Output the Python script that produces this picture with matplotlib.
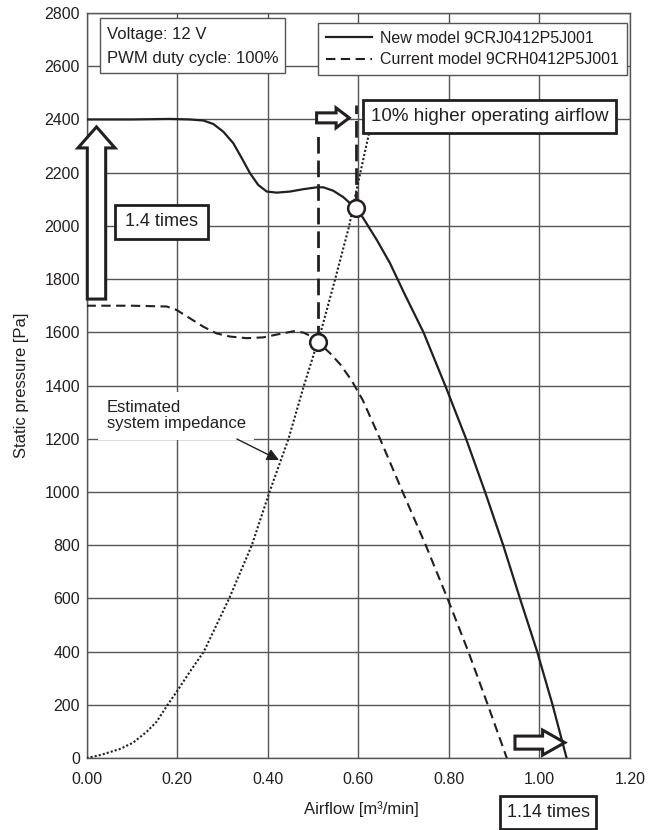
import matplotlib
matplotlib.use('Agg')
import matplotlib.pyplot as plt
from matplotlib.patches import FancyArrow, Rectangle

# fan P-Q curves
new_x = [0.000, 0.100, 0.184, 0.228, 0.258, 0.280, 0.302, 0.324, 0.343, 0.361, 0.379, 0.398,
         0.420, 0.449, 0.479, 0.508, 0.523, 0.545, 0.567, 0.582, 0.596, 0.611, 0.641, 0.670,
         0.702, 0.744, 0.792, 0.838, 0.880, 0.920, 0.957, 0.995, 1.029, 1.060]
new_y = [2400, 2400, 2402, 2400, 2396, 2383, 2354, 2311, 2254, 2198, 2154, 2129,
         2125, 2129, 2138, 2145, 2145, 2132, 2108, 2085, 2066, 2029, 1947, 1860,
         1745, 1600, 1400, 1200, 1000, 800, 600, 400, 200, 0]

cur_x = [0.000, 0.100, 0.177, 0.199, 0.228, 0.258, 0.287, 0.317, 0.354, 0.390, 0.427, 0.457,
         0.479, 0.501, 0.512, 0.538, 0.560, 0.585, 0.610, 0.648, 0.698, 0.749, 0.797, 0.843,
         0.886, 0.928]
cur_y = [1700, 1700, 1697, 1684, 1653, 1621, 1596, 1584, 1578, 1581, 1594, 1604,
         1599, 1581, 1562, 1521, 1480, 1420, 1345, 1200, 1000, 800, 600, 400,
         200, 0]

imp_x = [0.000, 0.030, 0.074, 0.103, 0.133, 0.155, 0.179, 0.199, 0.228, 0.259, 0.315, 0.365,
         0.404, 0.446, 0.480, 0.517, 0.549, 0.580, 0.593, 0.624]
imp_y = [0, 11, 34, 58, 99, 137, 200, 249, 324, 400, 600, 800,
         1000, 1200, 1400, 1600, 1800, 2000, 2110, 2350]

# operating points (current, new)
op_x = [0.512, 0.596]
op_y = [1562, 2066]

x_ticks = [0.0, 0.2, 0.4, 0.6, 0.8, 1.0, 1.2]
y_ticks = [0, 200, 400, 600, 800, 1000, 1200, 1400, 1600, 1800, 2000, 2200, 2400, 2600, 2800]

INK = '#231f20'
GRID = '#555555'
plt.rcParams['font.family'] = ['Liberation Sans', 'DejaVu Sans']

fig = plt.figure(figsize=(6.61, 8.30), dpi=100, facecolor='white')
ax = fig.add_axes([0.1309, 0.0867, 0.8222, 0.8976])

ax.set_xlim(0, 1.2)
ax.set_ylim(0, 2800)
ax.set_xticks(x_ticks)
ax.set_xticklabels(['%.2f' % v for v in x_ticks], fontsize=11.5, color=INK)
ax.set_yticks(y_ticks)
ax.set_yticklabels([str(v) for v in y_ticks], fontsize=11.5, color=INK)
ax.tick_params(axis='both', length=0)
ax.tick_params(axis='x', pad=10)
ax.tick_params(axis='y', pad=4.7)
ax.grid(True, color=GRID, lw=1.0)
ax.set_axisbelow(True)
for sp in ax.spines.values():
    sp.set_color(GRID)
    sp.set_linewidth(1.0)

ax.set_xlabel('Airflow [m³/min]', fontsize=12, color=INK)
ax.xaxis.set_label_coords(0.505, -0.058)
ax.set_ylabel('Static pressure [Pa]', fontsize=12, color=INK)
ax.yaxis.set_label_coords(-0.106, 0.5)

# curves
ax.plot(new_x, new_y, color=INK, lw=1.6, zorder=3, label='New model 9CRJ0412P5J001')
ax.plot(cur_x, cur_y, color=INK, lw=1.5, ls=(0, (4.5, 2.6)), zorder=3,
        label='Current model 9CRH0412P5J001')
ax.plot(imp_x, imp_y, color=INK, lw=1.5, ls=(0, (1, 1)), zorder=3)

# vertical guides from the operating points
ax.plot([op_x[0], op_x[0]], [op_y[0], 2348], color=INK, lw=2.0, ls=(0, (6, 2.5)), zorder=3)
ax.plot([op_x[1], op_x[1]], [op_y[1], 2455], color=INK, lw=2.0, ls=(0, (6, 2.5)), zorder=3)
ax.plot(op_x, op_y, ls='none', marker='o', ms=12, mfc='white', mec=INK, mew=1.8, zorder=6)

# hollow arrows
arrow_kw = dict(length_includes_head=True, fc='white', ec=INK, lw=2.2, zorder=6, clip_on=False)
ax.add_patch(FancyArrow(0.022, 1725, 0, 647, width=0.0406, head_width=0.0817,
                        head_length=79, **arrow_kw))
ax.add_patch(FancyArrow(0.508, 2406, 0.072, 0, width=37.6, head_width=75,
                        head_length=0.029, **arrow_kw))
ax.add_patch(FancyArrow(0.946, 58, 0.110, 0, width=49, head_width=94,
                        head_length=0.049, **arrow_kw))


def box(x0, x1, y0, y1, label, size, lw=2.0, ec=INK):
    ax.add_patch(Rectangle((x0, y0), x1 - x0, y1 - y0, fc='white', ec=ec, lw=lw,
                           zorder=7, clip_on=False))
    ax.text((x0 + x1) / 2, (y0 + y1) / 2, label, ha='center', va='center',
            fontsize=size, color=INK, zorder=8, clip_on=False)


box(0.063, 0.268, 1951, 2079, '1.4 times', 13)
box(0.610, 1.169, 2349, 2473, '10% higher operating airflow', 13.5)
box(0.913, 1.125, -267, -143, '1.14 times', 13)

# conditions box
ax.add_patch(Rectangle((0.030, 2575), 0.408, 207, fc='white', ec=GRID, lw=1.0, zorder=7))
ax.text(0.045, 2718, 'Voltage: 12 V', ha='left', va='center', fontsize=12, color=INK, zorder=8)
ax.text(0.045, 2628, 'PWM duty cycle: 100%', ha='left', va='center', fontsize=12, color=INK,
        zorder=8)

# impedance label
ax.text(0.0446, 1286, 'Estimated\nsystem impedance', ha='left', va='center', fontsize=12,
        color=INK, linespacing=1.1, zorder=4,
        bbox=dict(boxstyle='square,pad=0.5', fc='white', ec='none'))
ax.annotate('', xy=(0.425, 1120), xytext=(0.332, 1199),
            arrowprops=dict(arrowstyle='-|>', color=INK, lw=1.0, mutation_scale=18,
                            shrinkA=0, shrinkB=0), zorder=5)

leg = ax.legend(loc='upper right', bbox_to_anchor=(0.9945, 0.9866), fontsize=11.5,
                frameon=True, fancybox=False, framealpha=1, edgecolor=GRID,
                borderaxespad=0, handlelength=2.9, handletextpad=0.5,
                labelspacing=0.4, borderpad=0.5)
leg.get_frame().set_linewidth(1.0)
for t in leg.get_texts():
    t.set_color(INK)

fig.savefig('out.png', dpi=100, facecolor='white')
